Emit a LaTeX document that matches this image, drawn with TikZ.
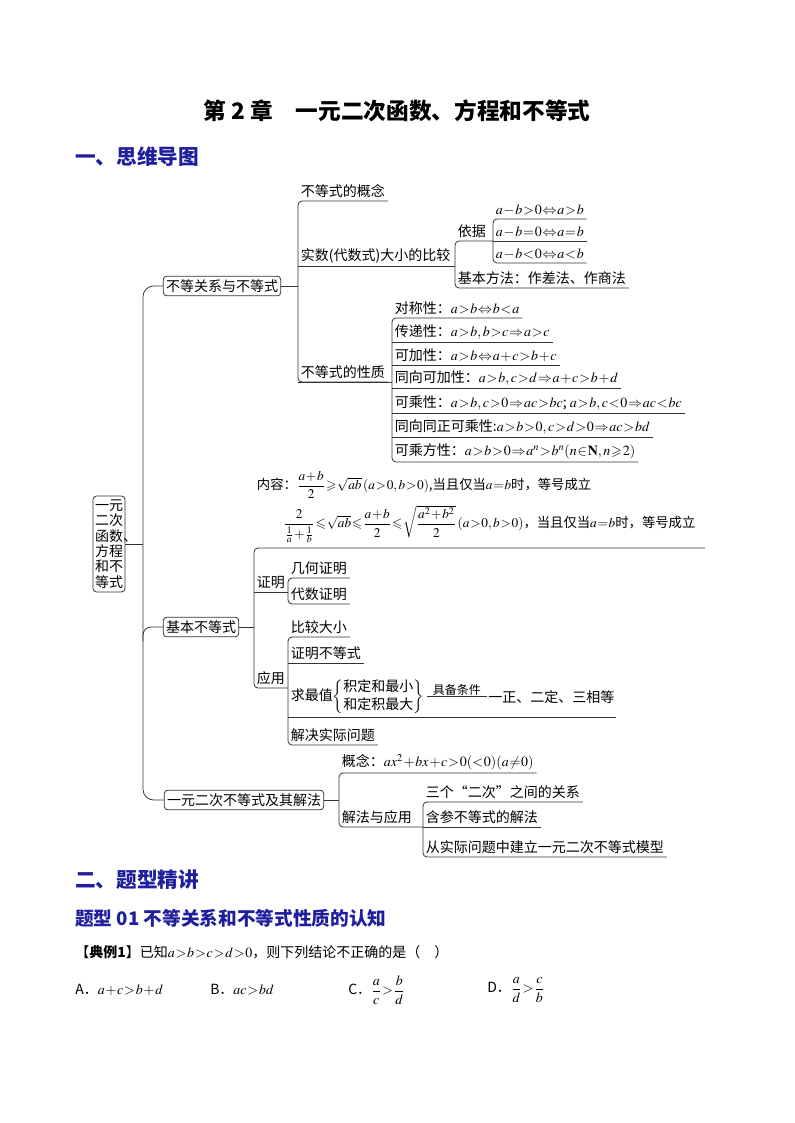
\documentclass[tikz,border=0pt]{standalone}
\usepackage{amsmath,amssymb}
\usepackage{mathptmx}
\usepackage[no-math]{fontspec}
\setmainfont{Noto Sans CJK SC}
\usetikzlibrary{positioning,calc}
\definecolor{headblue}{HTML}{1F1F9E}
\definecolor{linegray}{HTML}{333333}
\newcommand{\wuhao}{\fontsize{10.5pt}{12pt}\selectfont}
\tikzset{
  branch/.style={draw=linegray, line width=0.6pt, rounded corners=2.5pt, inner xsep=2pt, inner ysep=2.5pt, font=\wuhao},
  leaf/.style={anchor=south west, inner xsep=2pt, inner ysep=2pt, font=\wuhao},
  wire/.style={draw=linegray, line width=0.6pt},
  elbow/.style={wire, rounded corners=3pt},
  heading/.style={anchor=west, inner sep=0pt, font=\fontsize{15.5pt}{18pt}\selectfont\bfseries, text=headblue},
}

\begin{document}
\begin{tikzpicture}[x=0.75pt,y=-0.75pt]
  \useasboundingbox (0,0) rectangle (794,1123);
  \fill[white] (0,0) rectangle (794,1123);
  \thickmuskip=1mu plus 1mu
  \medmuskip=1mu

  \node[font=\fontsize{17pt}{19pt}\selectfont\bfseries] (title) at (397,111) {第 2 章\quad 一元二次函数、方程和不等式};
  \node[heading] (h1) at (75,157) {一、思维导图};

  % root and spine
  \node[branch, align=left, font=\fontsize{10.5pt}{11.6pt}\selectfont, inner xsep=1.5pt] (root) at (109,544) {一元\\二次\\函数\rlap{、}\\方程\\和不\\等式};
  \coordinate (spine) at (143,544);
  \node[branch] (ineq) at (222,286) {不等关系与不等式};
  \node[branch] (basic) at (201,627) {基本不等式};
  \node[branch] (quad) at (244,800) {一元二次不等式及其解法};
  \draw[elbow, rounded corners=8pt] (ineq.west) -- (ineq.west -| spine) -- (quad.west -| spine) -- (quad.west);
  \draw[wire] (root.east) -- (root.east -| spine);
  \draw[elbow, rounded corners=6pt] ($(spine |- basic.west)+(0,14)$) |- (basic.west);

  % branch 1
  \node[leaf] (concept) at (298,201) {不等式的概念};
  \node[leaf] (compare) at (298,266) {实数(代数式)大小的比较};
  \node[leaf] (props) at (298,382) {不等式的性质};
  \draw[wire] (ineq.east) -- (ineq.east -| concept.south west);
  \draw[elbow] (concept.south east) -- (concept.south west) -- (props.south west) -- (props.south east);

  \node[leaf] (basis) at (455,241) {依据};
  \node[leaf] (method) at (455,288) {基本方法：作差法、作商法};
  \draw[wire] (compare.south west) -- (compare.south west -| basis.south west);
  \node[leaf] (gt) at (493,219) {$a-b>0\Leftrightarrow a>b$};
  \node[leaf] (eq) at (493,241) {$a-b=0\Leftrightarrow a=b$};
  \node[leaf] (lt) at (493,263) {$a-b<0\Leftrightarrow a<b$};
  \draw[elbow] (eq.south west) -- (basis.south west) -- (method.south west) -- (method.south east);
  \draw[elbow] (gt.south east) -- (gt.south west) -- (lt.south west) -- (lt.south east);
  \draw[wire] (eq.south west) -- (eq.south east);

  \node[leaf] (sym) at (392,318) {对称性：$a>b\Leftrightarrow b<a$};
  \node[leaf] (trans) at (392,342) {传递性：$a>b,b>c\Rightarrow a>c$};
  \node[leaf] (addp) at (392,365) {可加性：$a>b\Leftrightarrow a+c>b+c$};
  \node[leaf] (addsame) at (392,388) {同向可加性：$a>b,c>d\Rightarrow a+c>b+d$};
  \node[leaf] (mulp) at (392,413) {可乘性：$a>b,c>0\Rightarrow ac>bc$; $a>b,c<0\Rightarrow ac<bc$};
  \node[leaf] (mulpos) at (392,437) {同向同正可乘性:$a>b>0,c>d>0\Rightarrow ac>bd$};
  \node[leaf] (power) at (392,462) {可乘方性：$a>b>0\Rightarrow a^n>b^n(n\in\mathbf{N},n\geqslant2)$};
  \draw[wire] (props.south west) -- (props.south west -| sym.south west);
  \draw[elbow] (sym.south east) -- (sym.south west) -- (power.south west) -- (power.south east);
  \foreach \n in {trans,addp,addsame,mulp,mulpos}
    \draw[wire] (\n.south west) -- (\n.south east);

  % branch 2
  \node[leaf, align=left, inner ysep=3.5pt, font=\fontsize{10pt}{12pt}\selectfont] (content) at (254,548) {内容：$\dfrac{a+b}{2}\geqslant\sqrt{ab}\,(a>0,b>0)$,当且仅当$a=b$时，等号成立\\[4pt]
    \hspace*{20pt}$\dfrac{2}{\frac{1}{a}+\frac{1}{b}}\leqslant\sqrt{ab}\leqslant\dfrac{a+b}{2}\leqslant\sqrt{\dfrac{a^2+b^2}{2}}\,(a>0,b>0)$，当且仅当$a=b$时，等号成立};
  \coordinate (cend) at (705,548);
  \node[leaf] (proof) at (254,592) {证明};
  \node[leaf] (apply) at (254,688) {应用};
  \node[leaf] (geo) at (288,578) {几何证明};
  \node[leaf] (alg) at (288,604) {代数证明};
  \node[leaf] (cmp) at (288,637) {比较大小};
  \node[leaf] (prove) at (288,663) {证明不等式};
  \node[leaf] (extr) at (288,717) {求最值$\left\{\begin{tabular}{@{}l@{}}积定和最小\\[1pt]和定积最大\end{tabular}\right\}$};
  \node[leaf] (real) at (288,745) {解决实际问题};
  \node[right=45pt of extr, font=\wuhao, inner sep=1pt] (three) {一正、二定、三相等};
  \draw[wire] (basic.east) -- (basic.east -| content.south west);
  \draw[elbow] (cend) -- (content.south west) -- (apply.south west) -- (apply.south west -| cmp.south west);
  \draw[wire] (proof.south west) -- (proof.south west -| geo.south west);
  \draw[elbow] (geo.south east) -- (geo.south west) -- (alg.south west) -- (alg.south east);
  \draw[elbow] (cmp.south east) -- (cmp.south west) -- (real.south west) -- (real.south east);
  \draw[wire] (prove.south west) -- (prove.south east);
  \draw[wire] (extr.south west) -- (extr.south west -| three.east);
  \draw[wire] (extr.east) -- (three.west) node[midway, above, inner sep=1pt, font=\fontsize{9pt}{10pt}\selectfont] (cond) {具备条件};

  % branch 3
  \node[leaf] (notion) at (339,773) {概念：$ax^2+bx+c>0(<0)(a\neq0)$};
  \node[leaf] (solve) at (339,827) {解法与应用};
  \node[leaf] (rel) at (423,802) {三个“二次”之间的关系};
  \node[leaf] (param) at (423,827) {含参不等式的解法};
  \node[leaf] (model) at (423,857) {从实际问题中建立一元二次不等式模型};
  \draw[wire] (quad.east) -- (quad.east -| notion.south west);
  \draw[elbow] (notion.south east) -- (notion.south west) -- (solve.south west) -- (solve.south west -| rel.south west);
  \draw[elbow] (rel.south east) -- (rel.south west) -- (model.south west) -- (model.south east);
  \draw[wire] (param.south west) -- (param.south east);

  % question part
  \node[heading] (h2) at (75,880) {二、题型精讲};
  \node[heading, font=\fontsize{14pt}{16pt}\selectfont\bfseries] (type1) at (75,918) {题型 01 不等关系和不等式性质的认知};
  \node[anchor=west, inner sep=0pt, font=\wuhao] (ex1) at (75,952) {【\textbf{典例1}】已知$a>b>c>d>0$，则下列结论不正确的是（\quad ）};
  \node[anchor=west, inner sep=0pt, font=\wuhao] (optA) at (75,990) {A．$a+c>b+d$};
  \node[anchor=west, inner sep=0pt, font=\wuhao] (optB) at (210,990) {B．$ac>bd$};
  \node[anchor=west, inner sep=0pt, font=\wuhao] (optC) at (348,990) {C．$\dfrac{a}{c}>\dfrac{b}{d}$};
  \node[anchor=west, inner sep=0pt, font=\wuhao] (optD) at (487,990) {D．$\dfrac{a}{d}>\dfrac{c}{b}$};
\end{tikzpicture}
\end{document}
